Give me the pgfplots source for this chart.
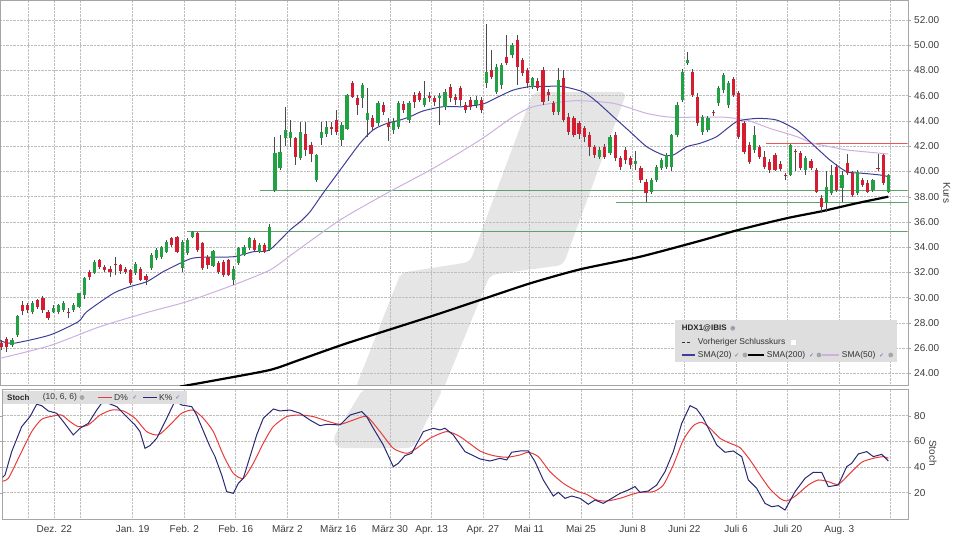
\documentclass[border=0pt]{standalone}
\usepackage{pgfplots}
\pgfplotsset{compat=1.18}
\usepackage{pgfplotstable}
\usepackage{fontspec}
\setmainfont{Liberation Sans}
\newfontfamily\dejavu{DejaVu Sans}
\definecolor{cgreen}{RGB}{34,160,68}
\definecolor{cred}{RGB}{214,28,48}
\definecolor{wick}{RGB}{75,75,75}
\definecolor{sma20}{RGB}{62,62,150}
\definecolor{sma50}{RGB}{205,175,225}
\definecolor{hgreen}{RGB}{95,160,110}
\definecolor{hred}{RGB}{232,90,90}
\definecolor{kcol}{RGB}{40,40,115}
\definecolor{dcol}{RGB}{232,60,60}
\definecolor{gridgray}{RGB}{190,190,190}
\definecolor{framegray}{RGB}{165,165,165}
\definecolor{labelgray}{RGB}{60,60,60}
\definecolor{wm}{RGB}{229,229,229}
\definecolor{legbg}{RGB}{222,222,222}
\definecolor{chk}{RGB}{70,110,180}

\pgfplotstableread{
i O H L C
1 26.43 26.64 25.85 26.11
2 26.70 26.90 25.70 26.11
3 26.25 26.80 26.10 26.64
4 27.04 28.60 26.90 28.54
5 29.40 29.76 28.60 28.97
6 29.40 29.60 28.80 29.02
7 28.89 29.70 28.70 29.55
8 29.80 29.90 29.10 29.28
9 30.00 30.10 28.80 29.00
10 28.89 29.00 28.20 28.36
11 28.90 29.40 28.80 29.20
12 28.90 29.50 28.70 29.40
13 29.02 29.70 28.90 29.55
14 28.90 29.15 28.36 28.85
15 29.02 29.60 28.90 29.40
16 29.28 30.40 29.20 30.34
17 30.20 31.60 29.90 31.53
18 32.06 32.20 31.40 31.66
19 31.98 33.00 31.90 32.85
20 32.98 33.10 32.30 32.40
21 32.45 32.60 32.00 32.19
22 32.30 32.50 31.66 32.00
23 32.70 33.24 31.80 32.60
24 32.60 32.70 31.90 32.10
25 32.30 32.40 31.90 32.06
26 32.19 32.30 31.00 31.13
27 31.98 32.80 31.80 32.66
28 32.30 32.40 31.30 31.40
29 31.70 31.90 31.00 31.40
30 32.32 33.50 32.20 33.38
31 33.11 33.90 33.00 33.77
32 33.24 34.10 33.10 34.04
33 33.64 34.60 33.50 34.43
34 34.70 34.80 34.00 34.17
35 34.78 34.90 33.50 33.64
36 32.32 34.60 32.00 34.43
37 33.51 34.70 33.40 34.57
38 34.80 35.30 34.70 35.20
39 35.10 35.20 33.60 33.77
40 34.30 34.40 32.20 32.32
41 33.24 33.40 32.30 32.58
42 32.50 33.80 32.40 33.72
43 32.72 32.90 31.90 32.06
44 32.85 33.00 31.60 31.79
45 32.98 33.10 31.70 31.79
46 31.40 32.50 31.00 32.24
47 32.72 34.00 32.60 33.90
48 33.38 34.20 33.30 34.04
49 33.90 34.80 33.80 34.70
50 34.57 34.70 33.70 33.77
51 33.64 34.30 33.50 34.17
52 34.17 34.30 33.50 33.64
53 33.77 35.80 33.70 35.62
54 38.50 42.76 38.40 41.43
55 40.25 42.90 40.10 41.57
56 42.62 45.10 42.00 43.28
57 42.62 44.07 41.96 43.15
58 42.62 42.76 40.50 41.17
59 41.04 43.90 40.90 43.15
60 43.00 43.94 41.20 41.70
61 42.10 42.30 40.75 41.40
62 39.30 41.40 39.20 41.30
63 42.62 43.94 42.10 43.15
64 42.97 44.00 42.70 43.55
65 43.50 43.94 42.90 43.40
66 44.08 44.90 42.90 43.15
67 42.50 43.90 42.00 43.68
68 43.40 46.10 43.30 46.06
69 46.98 47.20 45.80 45.92
70 45.79 46.06 44.50 45.27
71 45.79 47.00 45.00 46.85
72 44.08 46.60 42.76 44.60
73 44.21 44.50 43.30 43.55
74 43.80 45.60 43.60 45.40
75 45.27 45.50 44.50 44.74
76 43.80 44.20 42.40 43.50
77 43.28 44.20 43.00 43.94
78 43.55 45.60 43.40 45.40
79 45.32 45.60 44.60 44.87
80 44.08 45.60 43.80 45.40
81 46.06 46.30 45.00 45.53
82 46.19 46.40 45.50 45.66
83 45.30 47.20 45.10 45.80
84 45.95 46.30 45.50 45.85
85 45.80 46.00 45.20 45.50
86 45.85 46.20 43.68 45.95
87 45.13 46.50 44.90 46.30
88 46.70 46.90 45.50 45.80
89 45.92 46.10 45.30 45.66
90 46.59 46.80 45.20 45.66
91 45.26 45.50 44.60 44.87
92 45.66 45.90 44.90 45.13
93 45.26 46.00 45.00 45.66
94 45.66 45.90 44.60 44.87
95 46.98 51.70 46.60 47.90
96 48.04 49.60 47.30 47.50
97 46.30 48.50 46.10 48.30
98 46.85 48.60 46.50 48.40
99 49.10 50.80 48.40 48.60
100 49.20 50.20 49.00 50.00
101 50.40 50.80 46.85 48.30
102 48.80 49.00 47.60 47.80
103 48.04 48.20 46.60 46.98
104 46.72 47.50 46.50 47.40
105 47.20 47.40 46.40 46.60
106 48.04 48.30 45.30 45.53
107 46.30 46.50 45.60 46.06
108 45.40 45.60 44.50 44.74
109 44.74 48.20 44.50 47.25
110 47.40 48.00 43.90 44.08
111 44.34 44.60 42.90 43.15
112 44.20 44.40 42.70 42.90
113 43.80 44.00 42.60 43.00
114 43.41 43.60 42.30 42.76
115 42.90 43.10 41.20 41.96
116 41.96 42.10 41.10 41.30
117 41.17 41.90 41.00 41.70
118 41.96 42.20 41.00 41.17
119 41.43 42.90 41.30 42.76
120 42.90 43.10 40.80 41.04
121 41.04 41.20 40.10 40.38
122 41.70 41.90 40.60 40.90
123 41.04 41.20 40.20 40.50
124 40.60 41.60 40.10 40.80
125 40.25 40.40 39.10 39.32
126 39.19 39.40 37.60 38.26
127 38.40 39.50 38.20 39.32
128 39.32 40.50 39.20 40.38
129 40.25 41.10 40.10 40.90
130 40.38 41.50 40.20 41.30
131 40.38 43.00 40.00 42.90
132 42.90 45.50 42.70 45.26
133 45.66 48.10 45.50 47.90
134 48.60 49.50 48.40 48.83
135 47.90 48.10 45.90 46.06
136 45.92 46.20 43.60 43.80
137 43.15 44.50 42.90 44.34
138 43.28 44.40 43.10 44.20
139 44.74 44.90 44.40 44.60
140 45.40 46.80 45.20 46.59
141 46.45 47.80 46.20 47.64
142 45.26 47.20 45.00 46.98
143 47.30 47.50 45.90 46.06
144 46.19 46.40 42.60 42.76
145 43.80 44.00 41.40 41.57
146 42.10 42.30 40.60 40.77
147 41.70 43.60 41.50 42.90
148 41.96 42.10 41.00 41.17
149 41.17 41.60 40.20 40.38
150 40.77 41.00 39.90 40.10
151 41.30 41.50 40.00 40.10
152 40.60 40.80 40.00 40.20
153 39.75 39.90 39.30 39.70
154 39.70 42.20 39.60 42.10
155 41.65 41.80 40.00 41.60
156 41.43 41.60 40.10 40.25
157 40.10 41.20 39.70 41.04
158 40.80 41.00 40.10 40.30
159 40.10 40.30 38.30 38.40
160 37.87 38.10 36.68 37.20
161 37.47 40.00 36.80 38.80
162 38.26 40.50 38.10 39.72
163 40.38 40.60 38.40 38.53
164 38.66 40.00 37.60 39.72
165 40.64 41.40 39.70 39.85
166 39.85 40.00 38.00 38.13
167 38.26 40.10 38.10 39.98
168 39.32 39.50 38.80 38.93
169 39.06 39.30 38.30 38.40
170 38.53 39.40 38.40 39.32
171 40.25 41.40 40.00 40.20
172 41.30 41.40 38.90 39.06
173 38.40 39.80 38.30 39.72
}\candles

\pgfplotstableread{
x y
0 26.59
13.3 26.38
50 27.04
78.3 28.10
86.7 28.88
113.3 30.34
130 30.87
146.7 31.26
163.3 32.06
180 32.72
191.7 33.11
203.3 33.20
233.3 33.24
253.3 33.64
269.3 33.77
290 35.36
300 36.00
310 36.80
323.3 38.30
340 40.10
360 42.23
373.3 43.30
386.7 43.80
400 44.07
410 44.34
423.3 44.80
443.3 45.13
463.3 45.13
483.3 45.35
496.7 45.85
513.3 46.45
530 46.72
550 46.75
563.3 46.72
583.3 46.30
596.7 45.53
613.3 44.34
630 43.15
646.7 41.96
663.3 41.30
673.3 41.30
686.7 41.96
700 42.23
716.7 42.76
736.7 43.94
756.7 44.20
776.7 44.07
796.7 43.28
813.3 42.10
830 40.90
846.7 39.98
863.3 39.85
880 39.72
888.3 39.59
}\smaA

\pgfplotstableread{
x y
0 25.19
50 26.20
100 27.70
150 28.89
186.7 29.68
233.3 31.00
270 32.19
293.3 33.51
340 36.15
386.7 38.27
433.3 40.25
480 42.49
513.3 44.34
533.3 45.13
573.3 45.60
613.3 45.40
646.7 44.60
670 44.30
696.7 44.30
723.3 44.30
746.7 44.07
770 43.41
796.7 42.76
813.3 42.23
830 41.96
846.7 41.70
863.3 41.57
888.3 41.38
}\smaB

\pgfplotstableread{
x y
180 22.95
216.7 23.47
270 24.27
300 25.08
346.7 26.38
430 28.49
480 29.81
530 31.13
580 32.24
640 33.24
700 34.50
733 35.25
763 35.85
790 36.35
822 36.85
855 37.45
888.3 38.00
}\smaC

\pgfplotstableread{
x y
0 29.9
5 33.8
11.7 52
21.7 71.5
30 79.3
36.7 88.9
41.7 87.8
48.3 83.7
56.7 81.9
63.3 75.4
73.3 65
80 70.2
88.3 74
96.7 84.4
103.3 91.5
110 89.1
116.7 87.1
125 80.5
135 72.8
140 67.6
145 54.6
150 56.7
156.7 62.4
166.7 78
175 91.5
181.7 88.3
191.7 87.1
196.7 80.5
205 65
210 55.9
215 48.1
221.7 33.8
226.7 20.8
233.3 19.5
238.3 27.3
243.3 31.2
250 48.1
256.7 65
263.3 78
273.3 85.2
280 83.7
290 84.4
300 81.9
310 76.6
320 72.2
326.7 73.3
340 72.8
350 80.5
361.7 83.2
366.7 79.3
373.3 70.2
383.3 57.2
393.3 40.3
398.3 42.9
405 48.9
411.7 50.7
423.3 67.6
433.3 70.2
440 68.9
445 70.2
453.3 65
465 52
480 46.3
490 44.7
500 46.8
506.7 45.5
511.7 51.5
520 52.5
528.3 52.5
535 44.2
543.3 29.9
553.3 17.4
558.3 20.3
565 15.6
571.7 17.4
580 15.6
588.3 11
595 14.3
603.3 11.7
611.7 15.6
620 19.5
628.3 22.1
635 24.7
640 20.3
648.3 21.3
656.7 26
665 36.4
673.3 52
681.7 74
690 87.8
696.7 85.2
703.3 78
710 67.6
716.7 57.2
725 51.5
733.3 52.5
741.7 48.1
748.3 29.9
756.7 23.4
765 11.7
771.7 9.1
778.3 9.9
785 6.5
795 20.8
805 31.2
813.3 35.9
821.7 35.9
828.3 24.7
838.3 26
846.7 40.3
851.7 42.9
858.3 50.2
866.7 52
873.3 48.1
881.7 49.9
888.3 44.7
}\stochK

\pgfplotstableread{
x y
0 28.6
8.3 31.2
20 49.4
31.7 67.6
41.7 77.2
53.3 79.8
61.7 80.5
70 75.4
78.3 71.5
88.3 72.8
100 80.5
111.7 84.4
123.3 83.7
135 78
146.7 67.6
158.3 65
170 72.8
181.7 81.9
193.3 84.4
203.3 78
213.3 67.6
223.3 49.4
233.3 35.1
243.3 31.2
253.3 42.9
263.3 58.5
273.3 71.5
286.7 79.3
300 80.5
313.3 79.3
326.7 75.9
340 73.3
353.3 76.6
366.7 79.3
380 67.6
393.3 54.6
406.7 50.7
416.7 54.6
430 62.4
446.7 67.6
460 63.7
480 52.5
493.3 48.9
506.7 47.6
520 49.4
528.3 51.5
538.3 48.1
550 36.4
563.3 27.3
576.7 21.3
586.7 18.7
596.7 14.3
606.7 13.5
620 15.6
630 18.2
640 20.3
653.3 20.8
663.3 26
673.3 41.6
683.3 61.1
693.3 72.2
701.7 74.8
710 70.2
720 62.4
730 58.5
740 55.1
750 45.5
760 33.8
770 22.9
780 15.6
786.7 13.5
796.7 18.2
808.3 26
818.3 29.9
828.3 28.6
838.3 26.5
850 35.1
861.7 43.7
873.3 46.8
883.3 48.1
888.3 46.8
}\stochD

\pgfplotsset{
  panel/.style={
    scale only axis,
    xmax=907.7,
    axis line style={draw=framegray},
    xtick={28.3,54.3,80.7,132.7,184.3,235.7,287.3,338.3,390,431.7,483,529.3,581,632.7,684.3,736,787.7,839.3,890},
    xtick style={draw=none},
    yticklabel pos=right,
    tick align=outside,
    major tick length=3pt,
    ytick style={draw=framegray},
    grid=major,
    major grid style={draw=gridgray, densely dotted, line width=0.6pt},
    yticklabel style={font=\fontsize{10}{12}\selectfont, text=labelgray},
    xticklabel style={font=\fontsize{10}{12}\selectfont, text=labelgray},
    /pgf/number format/assume math mode=true,
  },
  candle/.style={draw=none, mark=none, forget plot,
    error bars/.cd, y dir=plus, y explicit, error mark=none,
    error mark options={draw=none, fill=none},
    error bar style={solid, line cap=butt, #1}},
}

\begin{document}
\begin{tikzpicture}
\path[use as bounding box] (0pt,0pt) rectangle (960pt,-540pt);

% watermarks (background decoration)
\fill[wm] (356.7pt,-385pt) -- (400pt,-275pt) [rounded corners=6pt] -- (400pt,-273pt) -- (470pt,-262pt) -- (533.3pt,-92pt) -- (626.7pt,-92pt) -- (563.3pt,-265pt) -- (490pt,-275pt)[sharp corners] -- (445pt,-385pt) -- cycle;
\fill[wm, rounded corners=5pt] (363pt,-389pt) -- (443pt,-389pt) -- (413pt,-448pt) -- (337pt,-448pt) -- (333pt,-438pt) -- cycle;

% ---------------- main price panel ----------------
\begin{axis}[panel,
  at={(0pt,-385pt)}, anchor=south west,
  width=907.7pt, height=385pt,
  xmin=0,
  ymin=23.077, ymax=53.585,
  xticklabels={},
  ytick={24,26,...,52},
  /pgf/number format/fixed,
  /pgf/number format/fixed zerofill,
  /pgf/number format/precision=2,
]
% support / resistance lines
\addplot[hgreen, line width=0.9pt] coordinates {(187,35.22) (907.7,35.22)};
\addplot[hgreen, line width=0.9pt] coordinates {(260,38.53) (907.7,38.53)};
\addplot[hgreen, line width=0.9pt] coordinates {(616,37.55) (907.7,37.55)};
\addplot[hred, line width=0.9pt] coordinates {(766,42.22) (907.7,42.22)};

% moving averages
\addplot[sma50, line width=1pt, smooth, tension=0.4] table[x=x,y=y] {\smaB};
\addplot[black, line width=2.2pt, smooth, tension=0.4] table[x=x,y=y] {\smaC};
\addplot[sma20, line width=1pt, smooth, tension=0.4] table[x=x,y=y] {\smaA};

% candle wicks
\addplot[candle={line width=0.9pt, draw=wick}]
  table[x expr={1.7+5.155*(\thisrow{i}-1)}, y=L, y error plus expr={\thisrow{H}-\thisrow{L}}] {\candles};
% rising bodies
\addplot[candle={line width=3.2pt, draw=cgreen}]
  table[x expr={1.7+5.155*(\thisrow{i}-1)}, y=O, y error plus expr={max(\thisrow{C}-\thisrow{O},0)}] {\candles};
% falling bodies
\addplot[candle={line width=3.2pt, draw=cred}]
  table[x expr={1.7+5.155*(\thisrow{i}-1)}, y=C, y error plus expr={max(\thisrow{O}-\thisrow{C},0)}] {\candles};
\end{axis}

% ---------------- stochastic panel ----------------
\begin{axis}[panel,
  at={(2.7pt,-519pt)}, anchor=south west,
  width=905pt, height=130pt,
  xmin=2.7,
  ymin=-0.5, ymax=100.8,
  ytick={20,40,60,80},
  xticklabels={,Dez. 22,,Jan. 19,Feb. 2,Feb. 16,März 2,März 16,März 30,Apr. 13,Apr. 27,Mai 11,Mai 25,Juni 8,Juni 22,Juli 6,Juli 20,Aug. 3,},
]
\addplot[dcol, line width=1pt, smooth, tension=0.4] table[x=x,y=y] {\stochD};
\addplot[kcol, line width=1pt] table[x=x,y=y] {\stochK};
\end{axis}

% ---------------- axis titles ----------------
\node[rotate=-90, font=\fontsize{10}{12}\selectfont, text=labelgray] at (946.7pt,-193pt) {Kurs};
\node[rotate=-90, font=\fontsize{10}{12}\selectfont, text=labelgray] at (933pt,-453pt) {Stoch};

% ---------------- main legend ----------------
\fill[legbg] (675pt,-320pt) rectangle (896.7pt,-362.3pt);
\node[anchor=west, inner sep=0pt, font=\fontsize{8}{9}\selectfont\bfseries, text=black!85] at (681.7pt,-328.3pt) {HDX1@IBIS};
\fill[gray!70] (732.7pt,-328.3pt) circle (2.4pt);
\fill[chk!70] (733.4pt,-327.6pt) circle (1.2pt);
\draw[black!80, dash pattern=on 3pt off 2pt, line width=0.8pt] (681.7pt,-342.3pt) -- (691pt,-342.3pt);
\node[anchor=west, inner sep=0pt, font=\fontsize{8.5}{10}\selectfont, text=black!80] at (697.7pt,-342.3pt) {Vorheriger Schlusskurs};
\fill[white] (790.5pt,-345pt) rectangle (796pt,-339.5pt);
% row 3
\draw[sma20, line width=1.2pt] (681.7pt,-355pt) -- (695pt,-355pt);
\node[anchor=west, inner sep=0pt, font=\fontsize{8.5}{10}\selectfont, text=black!80] at (697.7pt,-355pt) {SMA(20)};
\node[inner sep=0pt, font=\dejavu\fontsize{6}{7}\selectfont, text=chk] at (737pt,-355.5pt) {✓};
\fill[gray!70] (745pt,-355pt) circle (2.4pt);
\draw[black, line width=1.2pt] (748pt,-355pt) -- (764pt,-355pt);
\node[anchor=west, inner sep=0pt, font=\fontsize{8.5}{10}\selectfont, text=black!80] at (766.7pt,-355pt) {SMA(200)};
\node[inner sep=0pt, font=\dejavu\fontsize{6}{7}\selectfont, text=chk] at (811.7pt,-355.5pt) {✓};
\fill[gray!70] (819pt,-355pt) circle (2.4pt);
\draw[sma50, line width=1.2pt] (822pt,-355pt) -- (839pt,-355pt);
\node[anchor=west, inner sep=0pt, font=\fontsize{8.5}{10}\selectfont, text=black!80] at (841.7pt,-355pt) {SMA(50)};
\node[inner sep=0pt, font=\dejavu\fontsize{6}{7}\selectfont, text=chk] at (881.7pt,-355.5pt) {✓};
\fill[gray!70] (890.7pt,-355pt) circle (2.4pt);

% ---------------- stoch legend ----------------
\fill[legbg] (2.7pt,-390.5pt) rectangle (186.7pt,-404pt);
\node[anchor=west, inner sep=0pt, font=\fontsize{8}{9}\selectfont\bfseries, text=black!85] at (7pt,-397.5pt) {Stoch};
\node[anchor=west, inner sep=0pt, font=\fontsize{8.5}{10}\selectfont, text=black!80] at (42.7pt,-397.5pt) {(10, 6, 6)};
\fill[gray!70] (82pt,-397.5pt) circle (2.4pt);
\draw[dcol, line width=1.3pt] (98pt,-397.5pt) -- (112pt,-397.5pt);
\node[anchor=west, inner sep=0pt, font=\fontsize{8.5}{10}\selectfont, text=black!80] at (114pt,-397.5pt) {D\%};
\node[inner sep=0pt, font=\dejavu\fontsize{6}{7}\selectfont, text=chk] at (135pt,-398pt) {✓};
\draw[kcol, line width=1.3pt] (143pt,-397.5pt) -- (157pt,-397.5pt);
\node[anchor=west, inner sep=0pt, font=\fontsize{8.5}{10}\selectfont, text=black!80] at (159pt,-397.5pt) {K\%};
\node[inner sep=0pt, font=\dejavu\fontsize{6}{7}\selectfont, text=chk] at (178pt,-398pt) {✓};
\end{tikzpicture}
\end{document}
